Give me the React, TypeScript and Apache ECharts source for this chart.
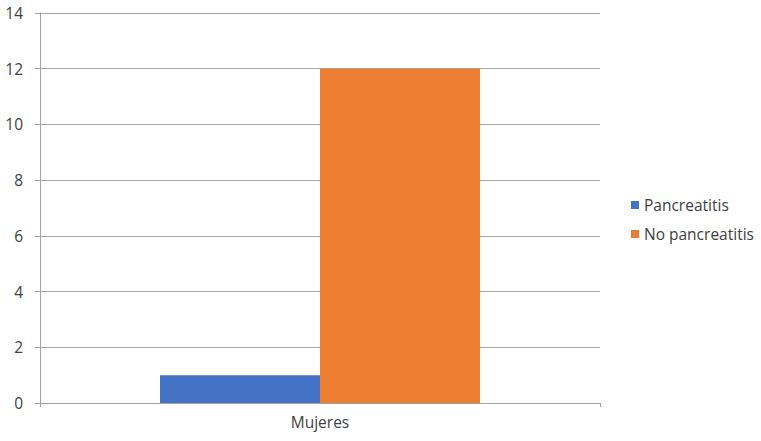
import React, { useEffect, useRef } from "react";
import * as echarts from "echarts";

const categories = ["Mujeres"];
const pancreatitis = [1];
const noPancreatitis = [12];
const seriesNames = ["Pancreatitis", "No pancreatitis"];

export default function App() {
  const ref = useRef<HTMLDivElement>(null);
  useEffect(() => {
    if (!ref.current) return;
    const chart = echarts.init(ref.current, undefined, { renderer: "svg" });
    const font = "'Open Sans', 'Liberation Sans', sans-serif";
    chart.setOption({
      animation: false,
      textStyle: { fontFamily: font },
      grid: { left: 40, right: 161, top: 13, bottom: 38, containLabel: false },
      legend: {
        orient: "vertical",
        left: 626,
        top: 192,
        itemWidth: 8,
        itemHeight: 8,
        itemGap: 13,
        icon: "rect",
        textStyle: { fontSize: 15.5, color: "#404040", fontFamily: font },
        data: seriesNames,
      },
      xAxis: {
        type: "category",
        data: categories,
        axisLine: { show: true, lineStyle: { color: "#a0a0a0", width: 1 } },
        axisTick: { show: true, length: 4, lineStyle: { color: "#a0a0a0" } },
        axisLabel: { fontSize: 15.5, color: "#404040", margin: 11, fontFamily: font },
      },
      yAxis: {
        type: "value",
        min: 0,
        max: 14,
        interval: 2,
        axisLine: { show: true, lineStyle: { color: "#a0a0a0", width: 1 } },
        axisTick: { show: true, length: 5, lineStyle: { color: "#a0a0a0" } },
        axisLabel: { fontSize: 15.5, color: "#404040", margin: 17, fontFamily: font },
        splitLine: { show: true, lineStyle: { color: "#a6a6a6", width: 1 } },
      },
      series: [
        {
          name: seriesNames[0],
          type: "bar",
          data: pancreatitis,
          barWidth: 160,
          barGap: "0%",
          itemStyle: { color: "#4472C4" },
        },
        {
          name: seriesNames[1],
          type: "bar",
          data: noPancreatitis,
          barWidth: 160,
          barGap: "0%",
          itemStyle: { color: "#ED7D31" },
        },
      ],
    });
    return () => chart.dispose();
  }, []);
  return <div ref={ref} style={{ width: 761, height: 441, position: "absolute", left: 0, top: 0 }} />;
}
